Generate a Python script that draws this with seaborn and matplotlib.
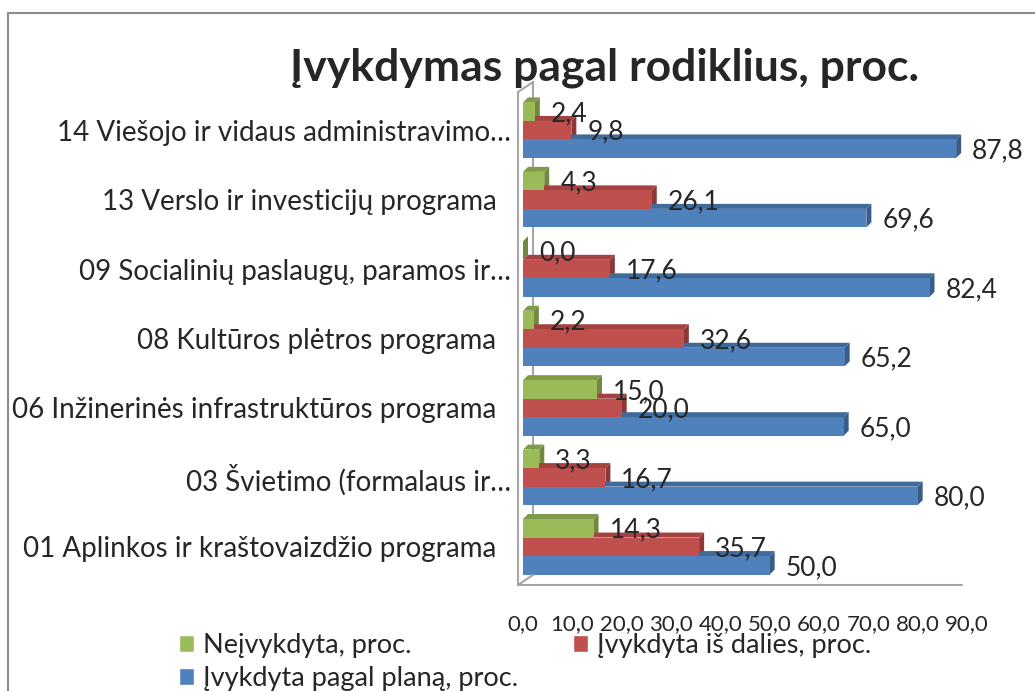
import pandas as pd
import matplotlib.pyplot as plt
import matplotlib.transforms as mtransforms
from matplotlib.patches import Polygon, Patch, Rectangle
from matplotlib.lines import Line2D
import seaborn as sns

programs = [
    '14 Viešojo ir vidaus administravimo…',
    '13 Verslo ir investicijų programa\u00a0\u00a0',
    '09 Socialinių paslaugų, paramos ir…',
    '08 Kultūros plėtros programa\u00a0\u00a0',
    '06 Inžinerinės infrastruktūros programa\u00a0\u00a0',
    '03 Švietimo (formalaus ir…',
    '01 Aplinkos ir kraštovaizdžio programa\u00a0\u00a0',
]
series = ['Neįvykdyta, proc.', 'Įvykdyta iš dalies, proc.', 'Įvykdyta pagal planą, proc.']
not_done = [2.4, 4.3, 0.0, 2.2, 15.0, 3.3, 14.3]
partly_done = [9.8, 26.1, 17.6, 32.6, 20.0, 16.7, 35.7]
done = [87.8, 69.6, 82.4, 65.2, 65.0, 80.0, 50.0]
x_ticks = [0, 10, 20, 30, 40, 50, 60, 70, 80, 90]

colors = ['#9BBB59', '#C0504D', '#4F81BD']
side_colors = ['#71893F', '#8C3836', '#385D8A']
top_colors = ['#7F9A48', '#A5423F', '#3F6A9C']

df = pd.DataFrame({
    'program': programs * 3,
    'series': [series[0]] * 7 + [series[1]] * 7 + [series[2]] * 7,
    'value': not_done + partly_done + done,
})

sns.set_style('white')
plt.rcParams['font.family'] = ['Lato', 'DejaVu Sans']

fig = plt.figure(figsize=(10.35, 6.91), dpi=100)
W, H = 1035, 691
ax = fig.add_axes([523 / W, 1 - 585 / H, (967 - 523) / W, (585 - 92) / H])

sns.barplot(data=df, y='program', x='value', hue='series', hue_order=series,
            order=programs, orient='h', palette=colors, saturation=1,
            width=0.8, legend=False, ax=ax, zorder=3, linewidth=0)

ax.set_xlim(0, 90)
ax.set_ylim(6.55, -0.55)
ax.set_xlabel('')
ax.set_ylabel('')
ax.set_xticks(x_ticks)
ax.set_xticklabels([f'{t:.1f}'.replace('.', ',') for t in x_ticks], fontsize=16)
ax.tick_params(axis='x', length=0, pad=21)
ax.tick_params(axis='y', length=0, pad=9, labelsize=20)
for s in ax.spines.values():
    s.set_visible(False)

fig.canvas.draw()
d = 5
ident = mtransforms.IdentityTransform()
for i, cont in enumerate(ax.containers):
    for bar in cont:
        (x0, y0), (x1, y1) = ax.transData.transform(
            [(bar.get_x(), bar.get_y()), (bar.get_x() + bar.get_width(), bar.get_y() + bar.get_height())])
        ytop, ybot = max(y0, y1), min(y0, y1)
        side = Polygon([(x1, ybot), (x1 + d, ybot + d), (x1 + d, ytop + d), (x1, ytop)],
                       closed=True, facecolor=side_colors[i], edgecolor='none',
                       transform=ident, zorder=2, clip_on=False)
        top = Polygon([(x0, ytop), (x1, ytop), (x1 + d, ytop + d), (x0 + d, ytop + d)],
                      closed=True, facecolor=top_colors[i], edgecolor='none',
                      transform=ident, zorder=2, clip_on=False)
        ax.add_artist(side)
        ax.add_artist(top)
        val = bar.get_width()
        ax.annotate(f'{val:.1f}'.replace('.', ','),
                    xy=(val, bar.get_y() + bar.get_height() / 2),
                    xytext=(16, -2), textcoords='offset pixels',
                    ha='left', va='center', fontsize=19, zorder=5)

# 3D box walls
grey = '#A6A6A6'
px = fig.dpi_scale_trans
back = ax.transAxes + mtransforms.ScaledTranslation(0.10, 0.10, px)
front = ax.transAxes + mtransforms.ScaledTranslation(-0.05, 0, px)
ax.add_line(Line2D([0, 0], [0, 1], transform=back, color=grey, lw=1.5, zorder=1, clip_on=False))
ax.add_line(Line2D([0, 0], [0, 1], transform=front, color=grey, lw=1.5, zorder=1, clip_on=False))
ax.add_line(Line2D([0, 1], [0, 0], transform=front, color=grey, lw=1.5, zorder=1, clip_on=False))
(bx, by) = ax.transAxes.transform((0, 0))
(tx, ty) = ax.transAxes.transform((0, 1))
for yy in (by, ty):
    fig.add_artist(Line2D([bx - 5, bx + 10], [yy, yy + 10], color=grey, lw=1.5, transform=ident))

fig.suptitle('Įvykdymas pagal rodiklius, proc.', x=605 / W, y=1 - 68 / H, va='center',
             fontsize=32, fontweight='bold')

handles = [Patch(facecolor=colors[0]), Patch(facecolor=colors[2]), Patch(facecolor=colors[1])]
labels = [series[0], series[2], series[1]]
fig.legend(handles, labels, ncol=2, loc='upper left', bbox_to_anchor=(168 / W, 1 - 622 / H),
           frameon=False, fontsize=19.5, handlelength=0.56, handleheight=0.56,
           handletextpad=0.35, columnspacing=2.0, labelspacing=0.3, borderaxespad=0)

fig.add_artist(Rectangle((8 / W, -0.1), 1.2, 1 - 13 / H + 0.1, transform=fig.transFigure,
                         facecolor='none', edgecolor='#8C8C8C', lw=1.5))

fig.savefig('out.png', dpi=100)
